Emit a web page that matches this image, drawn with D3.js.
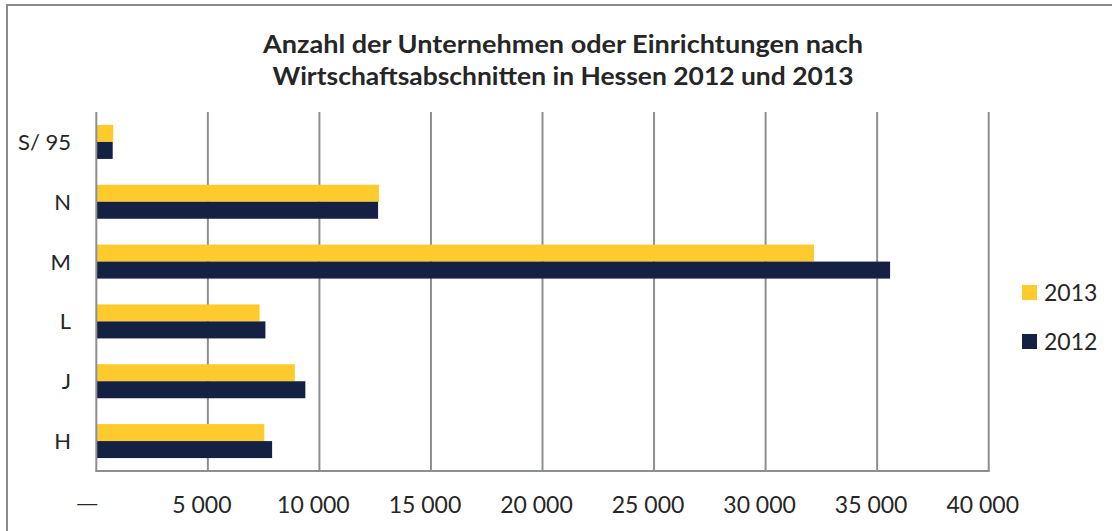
<!DOCTYPE html>
<html>
<head>
<meta charset="utf-8">
<script src="https://cdn.jsdelivr.net/npm/d3@7"></script>
<style>
  body { margin: 0; background: #fff; }
  svg { display: block; font-family: Lato, "Open Sans", sans-serif; }
</style>
</head>
<body>
<div id="chart"></div>
<script>
const WIDTH = 1112;
const HEIGHT = 531;

// data
const categories = ["S/ 95", "N", "M", "L", "J", "H"];
const seriesNames = ["2013", "2012"];
const values2013 = [760, 12670, 32170, 7320, 8900, 7530];
const values2012 = [735, 12630, 35580, 7580, 9370, 7880];
const tickValues = [0, 5000, 10000, 15000, 20000, 25000, 30000, 35000, 40000];
const tickLabels = ["—", "5 000", "10 000", "15 000", "20 000", "25 000", "30 000", "35 000", "40 000"];
const titleLines = ["Anzahl der Unternehmen oder Einrichtungen nach", "Wirtschaftsabschnitten in Hessen 2012 und 2013"];
const titleWidths = [600, 581];

const COLORS = { "2013": "#FFCA2C", "2012": "#142142" };
const GRID = "#8C8E91";
const TEXT = "#262626";

const margin = { left: 96.3, right: 123.3, top: 112, bottom: 60 };
const AXIS_Y = 471;

const svg = d3.select("#chart").append("svg")
  .attr("width", WIDTH)
  .attr("height", HEIGHT);

// outer frame (cut off at right and bottom)
svg.append("rect")
  .attr("x", 7).attr("y", 5)
  .attr("width", 1300).attr("height", 700)
  .attr("fill", "none")
  .attr("stroke", "#8A8A8A")
  .attr("stroke-width", 2);

const x = d3.scaleLinear()
  .domain([0, 40000])
  .range([margin.left, WIDTH - margin.right]);

const y = d3.scaleBand()
  .domain(categories)
  .range([margin.top, AXIS_Y]);

const inner = d3.scaleBand()
  .domain(seriesNames)
  .range([0, 34]);

// gridlines
svg.append("g")
  .selectAll("line")
  .data(tickValues.slice(1))
  .enter()
  .append("line")
  .attr("x1", d => x(d)).attr("x2", d => x(d))
  .attr("y1", margin.top).attr("y2", AXIS_Y)
  .attr("stroke", GRID)
  .attr("stroke-width", 2);

// bars
const rows = categories.map((c, i) => ({ cat: c, "2013": values2013[i], "2012": values2012[i] }));

const groups = svg.append("g")
  .selectAll("g")
  .data(rows)
  .enter()
  .append("g")
  .attr("transform", d => `translate(0,${y(d.cat) + y.bandwidth() / 2 - 17})`);

groups.selectAll("rect")
  .data(d => seriesNames.map(s => ({ s: s, v: d[s] })))
  .enter()
  .append("rect")
  .attr("x", x(0))
  .attr("y", d => inner(d.s))
  .attr("width", d => x(d.v) - x(0))
  .attr("height", inner.bandwidth())
  .attr("fill", d => COLORS[d.s]);

// axis lines
svg.append("line")
  .attr("x1", x(0)).attr("x2", x(0))
  .attr("y1", margin.top).attr("y2", AXIS_Y)
  .attr("stroke", GRID).attr("stroke-width", 2);
svg.append("line")
  .attr("x1", x(0) - 1).attr("x2", x(40000) + 1)
  .attr("y1", AXIS_Y).attr("y2", AXIS_Y)
  .attr("stroke", GRID).attr("stroke-width", 2);

// x tick labels (Excel puts them a bit left of the gridline)
svg.append("g")
  .selectAll("text")
  .data(tickValues)
  .enter()
  .append("text")
  .attr("x", (d, i) => i === 0 ? x(d) - 9 : x(d) - 6)
  .attr("y", (d, i) => i === 0 ? 510 : 513)
  .attr("text-anchor", "middle")
  .attr("font-size", (d, i) => i === 0 ? 20 : 23)
  .attr("font-family", (d, i) => i === 0 ? "'Liberation Sans', sans-serif" : null)
  .attr("fill", TEXT)
  .text((d, i) => tickLabels[i]);

// category labels
svg.append("g")
  .selectAll("text")
  .data(categories)
  .enter()
  .append("text")
  .attr("x", 71)
  .attr("y", d => y(d) + y.bandwidth() / 2)
  .attr("dy", "0.36em")
  .attr("text-anchor", "end")
  .attr("font-size", 22)
  .attr("fill", TEXT)
  .text(d => d);

// title
svg.append("g")
  .selectAll("text")
  .data(titleLines)
  .enter()
  .append("text")
  .attr("x", 563)
  .attr("y", (d, i) => 53 + i * 32)
  .attr("text-anchor", "middle")
  .attr("font-size", 24)
  .attr("font-weight", "bold")
  .attr("fill", TEXT)
  .attr("textLength", (d, i) => titleWidths[i])
  .attr("lengthAdjust", "spacingAndGlyphs")
  .text(d => d);

// legend
const legend = svg.append("g")
  .selectAll("g")
  .data(seriesNames)
  .enter()
  .append("g")
  .attr("transform", (d, i) => `translate(1022,${285 + i * 49})`);

legend.append("rect")
  .attr("width", 15).attr("height", 15)
  .attr("fill", d => COLORS[d]);

legend.append("text")
  .attr("x", 22)
  .attr("y", 15.5)
  .attr("font-size", 23)
  .attr("fill", TEXT)
  .text(d => d);
</script>
</body>
</html>
